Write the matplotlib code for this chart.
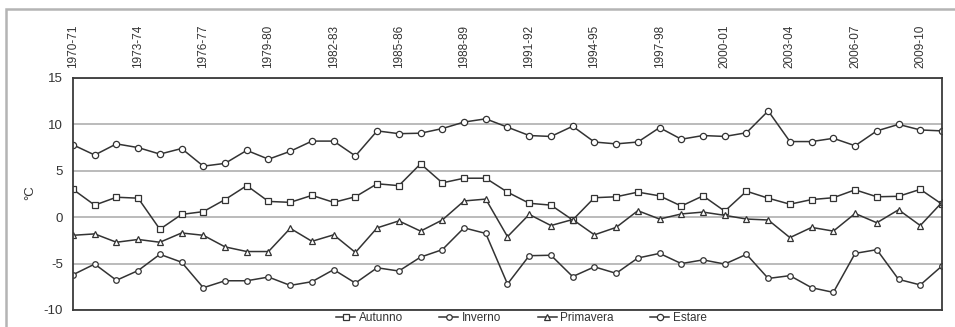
import matplotlib.pyplot as plt
import matplotlib.patches as patches
import numpy as np

plt.rcParams['font.family'] = ['Liberation Sans', 'DejaVu Sans']
plt.rcParams['axes.unicode_minus'] = False

anni = ['%d-%02d' % (y, (y + 1) % 100) for y in range(1970, 2011)]

autunno = [3.0, 1.3, 2.15, 2.05, -1.3, 0.3, 0.6, 1.9, 3.4, 1.7,
           1.6, 2.35, 1.6, 2.2, 3.6, 3.4, 5.75, 3.7, 4.2, 4.2,
           2.7, 1.5, 1.3, -0.3, 2.1, 2.2, 2.7, 2.3, 1.2, 2.3,
           0.65, 2.8, 2.05, 1.4, 1.9, 2.1, 2.95, 2.2, 2.25, 3.0, 1.4]
inverno = [-6.2, -5.05, -6.8, -5.75, -4.0, -4.85, -7.6, -6.85, -6.85, -6.45,
           -7.35, -6.95, -5.65, -7.1, -5.45, -5.8, -4.3, -3.5, -1.15, -1.75,
           -7.2, -4.15, -4.1, -6.4, -5.35, -6.05, -4.4, -3.9, -5.0, -4.6,
           -5.05, -4.0, -6.6, -6.3, -7.6, -8.1, -3.9, -3.5, -6.7, -7.3, -5.25]
primavera = [-1.95, -1.8, -2.7, -2.4, -2.7, -1.7, -1.95, -3.2, -3.7, -3.7,
             -1.2, -2.6, -1.9, -3.8, -1.15, -0.4, -1.5, -0.3, 1.75, 1.95,
             -2.1, 0.3, -0.9, -0.25, -1.9, -1.1, 0.7, -0.2, 0.35, 0.55,
             0.2, -0.2, -0.3, -2.2, -1.1, -1.5, 0.4, -0.6, 0.8, -0.9, 1.6]
estate = [7.8, 6.7, 7.9, 7.5, 6.8, 7.4, 5.5, 5.8, 7.2, 6.25,
          7.1, 8.2, 8.2, 6.6, 9.3, 9.0, 9.05, 9.55, 10.25, 10.6,
          9.7, 8.8, 8.7, 9.8, 8.1, 7.9, 8.1, 9.65, 8.4, 8.8,
          8.7, 9.1, 11.45, 8.15, 8.15, 8.5, 7.7, 9.3, 10.0, 9.4, 9.3]

fig = plt.figure(figsize=(9.55, 3.27), dpi=100)
ax = fig.add_axes([0.0764, 0.052, 0.91, 0.7095])

# cornice grigia esterna
fig.patches.append(patches.Rectangle((6 / 955, -0.05), 1.0, 1 - 9 / 327 + 0.05,
                                     transform=fig.transFigure, fill=False,
                                     edgecolor='#b4b4b4', linewidth=1.8))

x = np.arange(len(anni))
stile = dict(color='#333333', linewidth=1.1, markersize=4.5,
             markerfacecolor='white', markeredgecolor='#333333', markeredgewidth=0.9)
ax.plot(x, autunno, marker='s', label='Autunno', **stile)
ax.plot(x, inverno, marker='o', label='Inverno', **dict(stile, markersize=4))
ax.plot(x, primavera, marker='^', label='Primavera', **stile)
ax.plot(x, estate, marker='o', label='Estare', **stile)

ax.set_xlim(0, len(anni) - 1)
ax.set_ylim(-10, 15)
ax.set_yticks([-10, -5, 0, 5, 10, 15])
ax.yaxis.grid(True, color='#a8a8a8', linewidth=1.1)
ax.set_axisbelow(True)

ax.set_xticks(x[::3])
ax.set_xticklabels(anni[::3], rotation=90)
ax.xaxis.tick_top()
ax.tick_params(axis='x', length=0, pad=7, labelsize=8.5, labelcolor='#333333')
ax.tick_params(axis='y', length=0, pad=7, labelsize=9.5, labelcolor='#333333')

for s in ax.spines.values():
    s.set_color('#3a3a3a')
    s.set_linewidth(1.3)

fig.text(30 / 955, 1 - 193 / 327, '°C', rotation=90, ha='center', va='center',
         fontsize=9.5, color='#333333')

fig.legend(loc='center', bbox_to_anchor=(0.546, 1 - 318 / 327), ncol=4,
           frameon=False, fontsize=8.5, handlelength=1.6, handletextpad=0.3,
           columnspacing=3.1, borderpad=0, labelcolor='#333333')

fig.savefig('out.png', dpi=100)
